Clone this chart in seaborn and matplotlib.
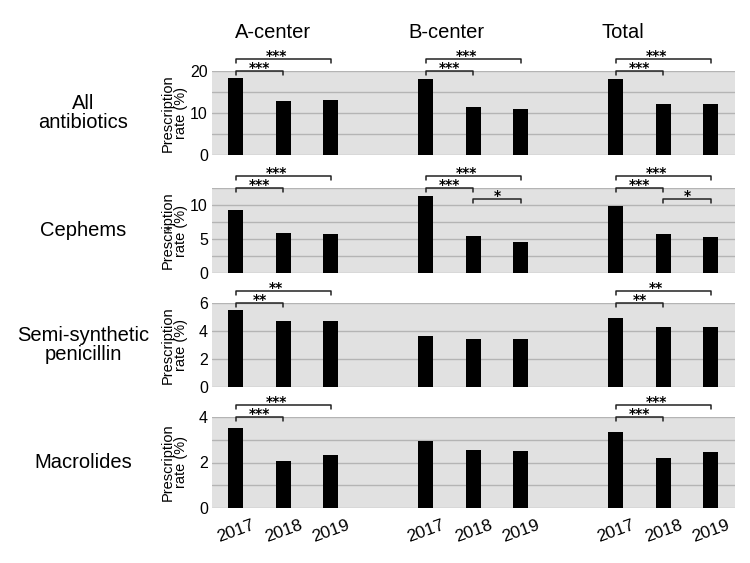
import numpy as np
import pandas as pd
import matplotlib
matplotlib.use("Agg")
import matplotlib.pyplot as plt
import seaborn as sns
from matplotlib.transforms import blended_transform_factory
from matplotlib.ticker import MultipleLocator

# ---------------- data ----------------
centers = ["A-center", "B-center", "Total"]
years = ["2017", "2018", "2019"]
drug_classes = ["All\nantibiotics", "Cephems", "Semi-synthetic\npenicillin", "Macrolides"]

# values ordered A(2017,2018,2019), B(...), Total(...)
all_antibiotics = [18.4, 12.9, 13.0, 18.1, 11.4, 10.9, 18.2, 12.2, 12.2]
cephems = [9.2, 5.9, 5.7, 11.3, 5.4, 4.6, 9.8, 5.8, 5.3]
semi_synthetic_penicillin = [5.5, 4.75, 4.75, 3.65, 3.4, 3.45, 4.9, 4.3, 4.3]
macrolides = [3.5, 2.05, 2.35, 2.95, 2.55, 2.5, 3.35, 2.2, 2.45]

y_max = [20, 12.5, 6, 4]
y_major = [10, 5, 2, 2]
y_grid = [5, 2.5, 2, 1]

# significance: (center index, year i, year j, label, level)
sig_all = [(0, 0, 1, "***", 0), (0, 0, 2, "***", 1),
           (1, 0, 1, "***", 0), (1, 0, 2, "***", 1),
           (2, 0, 1, "***", 0), (2, 0, 2, "***", 1)]
sig_cephems = [(0, 0, 1, "***", 0), (0, 0, 2, "***", 1),
               (1, 0, 1, "***", 0), (1, 0, 2, "***", 1), (1, 1, 2, "*", -1),
               (2, 0, 1, "***", 0), (2, 0, 2, "***", 1), (2, 1, 2, "*", -1)]
sig_penicillin = [(0, 0, 1, "**", 0), (0, 0, 2, "**", 1),
                  (2, 0, 1, "**", 0), (2, 0, 2, "**", 1)]
sig_macrolides = [(0, 0, 1, "***", 0), (0, 0, 2, "***", 1),
                  (2, 0, 1, "***", 0), (2, 0, 2, "***", 1)]

row_values = [all_antibiotics, cephems, semi_synthetic_penicillin, macrolides]
row_sigs = [sig_all, sig_cephems, sig_penicillin, sig_macrolides]

# ---------------- style ----------------
sns.set_style("white")
plt.rcParams["font.family"] = ["Liberation Sans", "DejaVu Sans"]
for k in ["text.color", "axes.labelcolor", "xtick.color", "ytick.color"]:
    plt.rcParams[k] = "black"

W, H = 750, 563
fig = plt.figure(figsize=(7.5, 5.63), dpi=100)

ax_left, ax_right = 212, 734.5
rows_px = [(71, 155), (188, 273), (303, 387), (417, 508)]
level_px = {0: 0.0, 1: 12.0, -1: -11.0}

def pos_of(ci, yi):
    return ci * 4 + yi

bg = "#e1e1e1"
grid_c = "#b4b4b4"

for r, (top, bot) in enumerate(rows_px):
    ax = fig.add_axes([ax_left / W, 1 - bot / H, (ax_right - ax_left) / W, (bot - top) / H])
    vals = row_values[r]
    df = pd.DataFrame({
        "center": np.repeat(centers, len(years)),
        "year": years * len(centers),
        "rate": vals,
    })
    df["pos"] = [pos_of(centers.index(c), years.index(y)) for c, y in zip(df["center"], df["year"])]
    sns.barplot(data=df, x="pos", y="rate", native_scale=True, width=0.31,
                color="black", saturation=1, errorbar=None, linewidth=0, ax=ax)
    ax.set_facecolor(bg)
    ax.set_xlim(-0.5, 10.5)
    ax.set_ylim(0, y_max[r])
    ax.yaxis.set_major_locator(MultipleLocator(y_major[r]))
    ax.yaxis.set_minor_locator(MultipleLocator(y_grid[r]))
    ax.grid(axis="y", which="both", color=grid_c, linewidth=1.0)
    ax.set_axisbelow(True)
    for s in ax.spines.values():
        s.set_visible(False)
    ax.tick_params(axis="y", which="both", length=0, labelsize=11.5, pad=3)
    ax.tick_params(axis="x", length=0)
    ax.set_ylabel("Prescription\nrate (%)", fontsize=10.5, linespacing=0.95)
    ax.yaxis.set_label_coords((188 - ax_left) / (ax_right - ax_left), 0.5)
    if r == 3:
        ticks = [pos_of(ci, yi) for ci in range(3) for yi in range(3)]
        ax.set_xticks(ticks)
        ax.set_xticklabels(years * 3, rotation=20, fontsize=12.5, ha="center")
        ax.tick_params(axis="x", pad=7)
    else:
        ax.set_xticks([])
    ax.set_xlabel("")

    # significance brackets
    h_px = bot - top
    trans = blended_transform_factory(ax.transData, ax.transAxes)
    for ci, i, j, lab, lev in row_sigs[r]:
        x1, x2 = pos_of(ci, i), pos_of(ci, j)
        yl = 1 + level_px[lev] / h_px
        yt = yl - 3.5 / h_px
        ax.plot([x1, x1, x2, x2], [yt, yl, yl, yt], color="#222222", lw=1.1,
                transform=trans, clip_on=False)
        xm = (x1 + x2) / 2 - (0.15 if lev == 1 else 0.0)
        ax.text(xm, yl - 1.0 / h_px, lab, transform=trans, ha="center", va="baseline",
                fontsize=10, family="DejaVu Sans", fontweight="bold", color="black",
                clip_on=False)

    # row label
    fig.text(83.5 / W, 1 - ((top + bot) / 2) / H, drug_classes[r], ha="center", va="center",
             fontsize=14.5, linespacing=1.0)

# column headers
for name, xc in zip(centers, [273.5, 446.5, 622.5]):
    fig.text(xc / W, 1 - 38 / H, name, ha="center", va="baseline", fontsize=14.5)

# stray asterisk over the Cephems y-label
fig.text(168 / W, 1 - 232 / H, "*", ha="center", va="center", fontsize=9, family="DejaVu Sans")

fig.savefig("out.png", dpi=100)
